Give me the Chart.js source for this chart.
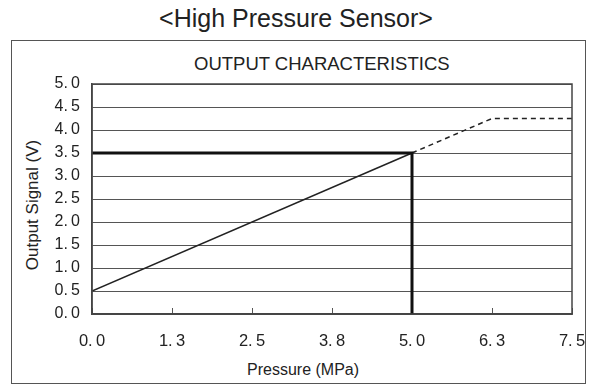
<!DOCTYPE html>
<html>
<head>
<meta charset="utf-8">
<script src="https://cdn.jsdelivr.net/npm/chart.js@4.4.1/dist/chart.umd.min.js"></script>
<style>
  html, body { margin: 0; padding: 0; background: #fff; }
  body { width: 589px; height: 386px; position: relative; overflow: hidden;
         font-family: "Liberation Sans", Arial, sans-serif; color: #222; }
  #frame { position: absolute; left: 11px; top: 40px; width: 575px; height: 344px;
           border: 1.5px solid #555; box-sizing: border-box; }
  .txt { position: absolute; white-space: nowrap; line-height: 1; }
  #mainTitle { left: 0; width: 592px; top: 6px; text-align: center; font-size: 25px; }
  #subTitle { left: 194px; top: 55px; font-size: 18.5px; }
  #yTitle { left: 32px; top: 205px; font-size: 17px; transform: translate(-50%, -50%) rotate(-90deg); }
  #xTitle { left: 247px; top: 362px; font-size: 16px; }
  #wrap { position: absolute; left: 0; top: 0; width: 589px; height: 386px; }
</style>
</head>
<body>
<div id="frame"></div>
<div class="txt" id="mainTitle">&lt;High Pressure Sensor&gt;</div>
<div class="txt" id="subTitle">OUTPUT CHARACTERISTICS</div>
<div class="txt" id="yTitle">Output Signal (V)</div>
<div class="txt" id="xTitle">Pressure (MPa)</div>
<div id="wrap"><canvas id="chart" width="589" height="386"></canvas></div>

<script>
// sensor output curve (MPa -> V)
const linePressure = [0, 5];
const lineSignal = [0.5, 3.5];

// extrapolated range beyond the rated point
const extPressure = [5, 6.25, 7.5];
const extSignal = [3.5, 4.25, 4.25];

// rated point guide lines
const guidePressure = [0, 5, 5];
const guideSignal = [3.5, 3.5, 0];

const xTickLabels = ['0.0', '1.3', '2.5', '3.8', '5.0', '6.3', '7.5'];
const yTickLabels = ['0.0', '0.5', '1.0', '1.5', '2.0', '2.5', '3.0', '3.5', '4.0', '4.5', '5.0'];

const toPoints = (xs, ys) => xs.map((x, i) => ({ x: x, y: ys[i] }));
const spaced = s => s.replace('.', '.\u2009');

// outline the plot area (top / right edges)
const plotFrame = {
    id: 'plotFrame',
    afterDatasetsDraw(chart) {
        const a = chart.chartArea;
        const ctx = chart.ctx;
        ctx.save();
        ctx.strokeStyle = '#444';
        ctx.lineWidth = 1.5;
        ctx.strokeRect(a.left, a.top, a.right - a.left, a.bottom - a.top);
        ctx.restore();
    }
};

new Chart(document.getElementById('chart'), {
    type: 'scatter',
    data: {
        datasets: [
            { data: toPoints(guidePressure, guideSignal), showLine: true, borderColor: '#111', borderWidth: 3, pointRadius: 0, borderCapStyle: 'butt' },
            { data: toPoints(linePressure, lineSignal), showLine: true, borderColor: '#222', borderWidth: 1.5, pointRadius: 0 },
            { data: toPoints(extPressure, extSignal), showLine: true, borderColor: '#222', borderWidth: 1.5, borderDash: [5, 4], pointRadius: 0 }
        ]
    },
    options: {
        responsive: false,
        animation: false,
        layout: { padding: { left: 52, right: 17, top: 84, bottom: 32 } },
        plugins: { legend: { display: false }, tooltip: { enabled: false } },
        scales: {
            x: {
                type: 'linear', min: 0, max: 7.5,
                afterFit: s => { s.height = 40; s.paddingLeft = 0; s.paddingRight = 0; },
                afterBuildTicks: s => { s.ticks = xTickLabels.map((t, i) => ({ value: i * 1.25 })); },
                ticks: {
                    callback: (v, i) => spaced(xTickLabels[i]),
                    color: '#222', font: { family: 'Liberation Sans', size: 16.5 }, padding: 24, maxRotation: 0
                },
                grid: { drawOnChartArea: false, drawTicks: true, tickLength: -6, color: '#555', lineWidth: 1 },
                border: { color: '#444', width: 1.5 }
            },
            y: {
                min: 0, max: 5,
                afterFit: s => { s.width = 40; s.paddingTop = 0; s.paddingBottom = 0; },
                ticks: {
                    stepSize: 0.5,
                    callback: (v, i) => spaced(yTickLabels[i]),
                    color: '#222', font: { family: 'Liberation Sans', size: 16 }, padding: 12
                },
                grid: { drawTicks: false, color: '#555', lineWidth: 1 },
                border: { color: '#444', width: 1.5 }
            }
        }
    },
    plugins: [plotFrame]
});
</script>
</body>
</html>
